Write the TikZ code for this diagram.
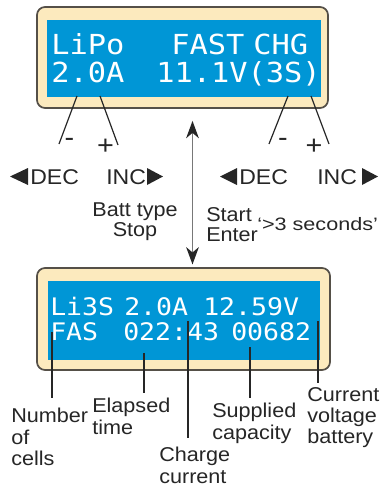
\documentclass[tikz,border=0pt]{standalone}
\usepackage{fontspec}
\usetikzlibrary{arrows.meta}
\newfontfamily\labfont[FakeStretch=1.08]{Liberation Sans}
\newfontfamily\secfont[FakeStretch=1.2]{Liberation Sans}
\newfontfamily\lcdfont[FakeStretch=1.1]{DejaVu Sans Mono}
\definecolor{lcdblue}{RGB}{0,150,214}
\definecolor{cream}{RGB}{252,234,190}
\definecolor{frame}{RGB}{85,80,72}
\definecolor{ink}{RGB}{38,38,38}
\definecolor{shaft}{RGB}{120,120,120}
\begin{document}
\begin{tikzpicture}[x=0.75pt,y=-0.75pt,
  case/.style={draw=frame, line width=1.3pt, fill=cream, rounded corners=6pt, inner sep=0},
  screen/.style={fill=lcdblue, inner sep=0},
  lcdtop/.style={anchor=base west, inner sep=0, text=white, font=\lcdfont\fontsize{20.7}{24}\selectfont},
  lcdbot/.style={anchor=base west, inner sep=0, text=white, font=\lcdfont\fontsize{18.1}{22}\selectfont},
  lab/.style={anchor=north west, inner sep=0, align=left, text=ink, font=\labfont\fontsize{15}{16}\selectfont},
  key/.style={anchor=base west, inner sep=0, text=ink, font=\labfont\fontsize{16}{18}\selectfont},
  sign/.style={inner sep=0, text=ink, font=\labfont\fontsize{20}{20}\selectfont},
  lead/.style={draw=ink, line width=0.9pt},
  tri/.style={fill=ink},
  dbl/.style={draw=shaft, line width=1.3pt, {Stealth[length=13pt,width=9.5pt,inset=4pt,color=ink]}-{Stealth[length=13pt,width=9.5pt,inset=4pt,color=ink]}}
]
\useasboundingbox (0,0) rectangle (386,490);

% top LCD
\node[case, minimum width=218.25pt, minimum height=75.75pt] (lcd1) at (182.5,57.5) {};
\node[screen, minimum width=205.5pt, minimum height=57.75pt] (scr1) at (184,58.5) {};
\node[lcdtop] (t1a) at (51,54) {LiPo};
\node[lcdtop] (t1b) at (171,54) {FAST};
\node[lcdtop] (t1c) at (253,54) {CHG};
\node[lcdtop] (t2a) at (51,82) {2.0A};
\node[lcdtop] (t2b) at (156,82) {11.1V(3S)};

% bottom LCD
\node[case, minimum width=219.75pt, minimum height=76.5pt] (lcd2) at (183.5,319) {};
\node[screen, minimum width=204pt, minimum height=59.25pt] (scr2) at (183.5,320.5) {};
\node[lcdbot] (b1a) at (50,315) {Li3S};
\node[lcdbot] (b1b) at (124,315) {2.0A};
\node[lcdbot] (b1c) at (203,315) {12.59V};
\node[lcdbot] (b2a) at (50,340) {FAS};
\node[lcdbot] (b2b) at (123,340) {022:43};
\node[lcdbot] (b2c) at (231,340) {00682};

% keys
\node[key] (dec1) at (30,184) {DEC};
\node[key] (inc1) at (106,184) {INC};
\node[key] (dec2) at (239,184) {DEC};
\node[key] (inc2) at (317,184) {INC};
\fill[tri] (10,176.5) -- (28,168) -- (28,185) -- cycle;
\fill[tri] (147,168) -- (163,176.5) -- (147,185) -- cycle;
\fill[tri] (220,176.5) -- (237,168) -- (237,185) -- cycle;
\fill[tri] (362,168) -- (378,176.5) -- (362,185) -- cycle;

\node[sign] (m1) at (69.5,142) {-};
\node[sign] (p1) at (105.5,147) {+};
\node[sign] (m2) at (283,142) {-};
\node[sign] (p2) at (314,147) {+};

\coordinate (s1) at (77,96);  \coordinate (e1) at (59,144);
\coordinate (s2) at (100,96); \coordinate (e2) at (118,145);
\coordinate (s3) at (288,96); \coordinate (e3) at (269,144);
\coordinate (s4) at (311,96); \coordinate (e4) at (329,144);
\draw[lead] (s1) -- (e1);
\draw[lead] (s2) -- (e2);
\draw[lead] (s3) -- (e3);
\draw[lead] (s4) -- (e4);

% middle texts
\node[inner sep=0, anchor=north, align=center, text=ink, font=\labfont\fontsize{15}{15}\selectfont] (batt) at (135,202) {Batt type\\Stop};
\node[lab, font=\labfont\fontsize{15}{15}\selectfont] (start) at (206,207) {Start\\Enter};
\node[inner sep=0, anchor=base west, text=ink, font=\secfont\fontsize{13.5}{16}\selectfont] (sec) at (257,230) {‘>3 seconds’};

% double arrow
\coordinate (ax) at (192.5,0);
\draw[dbl, shorten <=9pt, shorten >=2pt] (lcd1.south -| ax) -- (lcd2.north -| ax);

% bottom labels
\node[lab] (n1) at (11,408) {Number\\of\\cells};
\node[lab] (n2) at (92,398) {Elapsed\\time};
\node[lab] (n3) at (159,447) {Charge\\current};
\node[lab] (n4) at (212,403) {Supplied\\capacity};
\node[lab] (n5) at (307,387) {Current\\voltage\\battery};

\coordinate (c1) at (52,332);  \coordinate (d1) at (52,398);
\coordinate (c2) at (144,353); \coordinate (d2) at (144,393);
\coordinate (c3) at (188,321); \coordinate (d3) at (188,438);
\coordinate (c4) at (250,347); \coordinate (d4) at (250,398);
\coordinate (c5) at (318,321); \coordinate (d5) at (318,383);
\draw[lead] (c1) -- (d1);
\draw[lead] (c2) -- (d2);
\draw[lead] (c3) -- (d3);
\draw[lead] (c4) -- (d4);
\draw[lead] (c5) -- (d5);
\end{tikzpicture}
\end{document}
